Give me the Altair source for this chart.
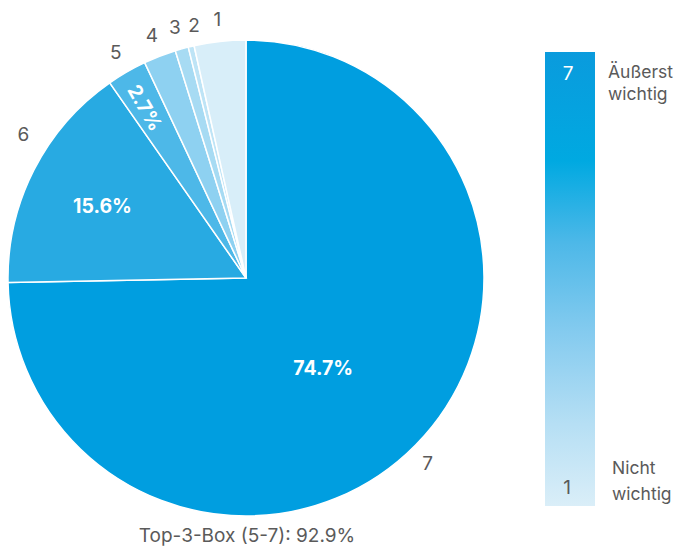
import altair as alt
import pandas as pd

categories = ["7", "6", "5", "4", "3", "2", "1"]
shares = [74.7, 15.6, 2.7, 2.2, 0.9, 0.4, 3.5]
inside_labels = ["74.7%", "15.6%", "2.7%", "", "", "", ""]
slice_colors = ["#009EE0", "#28AAE2", "#4DB8E8", "#8ED1F1", "#A7DBF3", "#BEE4F6", "#D8EEF9"]
legend_top_label = "7"
legend_bottom_label = "1"
legend_top_text = ["Äußerst", "wichtig"]
legend_bottom_text = ["Nicht", "wichtig"]
footer_text = "Top-3-Box (5-7): 92.9%"

FONT = "Inter"
GREY = "#5a5a5a"
CX, CY, R = 238, 270, 238

df = pd.DataFrame({
    "cat": categories,
    "value": shares,
    "inside": inside_labels,
    "order": list(range(len(categories))),
})

base = alt.Chart(df).encode(
    theta=alt.Theta("value:Q", stack=True),
    order=alt.Order("order:Q"),
    x=alt.value(CX),
    y=alt.value(CY),
)

color = alt.Color("cat:N", scale=alt.Scale(domain=categories, range=slice_colors), legend=None)

pie = base.mark_arc(stroke="white", strokeWidth=1.5).encode(
    color=color, radius=alt.value(R)
)


def outer_label(cats, dx=0, dy=0):
    cond = alt.FieldOneOfPredicate(field="cat", oneOf=cats)
    return base.mark_text(font=FONT, fontSize=19, color=GREY, dx=dx, dy=dy).encode(
        text=alt.condition(cond, "cat:N", alt.value("")),
        radius=alt.value(260),
    )


outer_main = outer_label(["1", "4", "5"])
outer_3 = outer_label(["3"], dx=-1)
outer_2 = outer_label(["2"], dx=8, dy=1)
outer_6 = outer_label(["6"], dx=9, dy=-25)
outer_7 = outer_label(["7"], dx=-4, dy=4)


def inside_label(cat, r, angle=0, dx=0, dy=0):
    return base.mark_text(
        font=FONT, fontSize=19.5, fontWeight="bold", color="white", angle=angle, dx=dx, dy=dy
    ).encode(
        text=alt.condition(alt.datum.cat == cat, "inside:N", alt.value("")),
        radius=alt.value(r),
    )


in7 = inside_label("7", 118, dx=-7, dy=8)
in6 = inside_label("6", 160, dx=-1, dy=2)
in5 = inside_label("5", 196, angle=60, dx=-2, dy=3)

one = alt.Chart(pd.DataFrame({"k": [0]}))

grad = alt.LinearGradient(
    gradient="linear",
    stops=[
        alt.GradientStop(color="#0A9BDD", offset=0),
        alt.GradientStop(color="#00A9E1", offset=0.24),
        alt.GradientStop(color="#4DB8E8", offset=0.42),
        alt.GradientStop(color="#85CBEF", offset=0.62),
        alt.GradientStop(color="#B6DFF4", offset=0.82),
        alt.GradientStop(color="#DAEEF8", offset=1),
    ],
    x1=0, y1=0, x2=0, y2=1,
)

legend_bar = one.mark_rect(fill=grad).encode(
    x=alt.value(537), x2=alt.value(587), y=alt.value(44), y2=alt.value(498)
)
leg7 = one.mark_text(font=FONT, fontSize=19, color="white").encode(
    x=alt.value(560), y=alt.value(66), text=alt.value(legend_top_label)
)
leg1 = one.mark_text(font=FONT, fontSize=19, color=GREY).encode(
    x=alt.value(559), y=alt.value(480), text=alt.value(legend_bottom_label)
)
leg_top = one.mark_text(font=FONT, fontSize=17.5, color=GREY, align="left", lineHeight=22).encode(
    x=alt.value(600), y=alt.value(65), text=alt.value(legend_top_text)
)
leg_bot = one.mark_text(font=FONT, fontSize=17.5, color=GREY, align="left", lineHeight=26).encode(
    x=alt.value(604), y=alt.value(461), text=alt.value(legend_bottom_text)
)
footer = one.mark_text(font=FONT, fontSize=19, color=GREY, baseline="alphabetic").encode(
    x=alt.value(239), y=alt.value(534), text=alt.value(footer_text)
)

chart = alt.layer(
    pie, outer_main, outer_3, outer_2, outer_6, outer_7, in7, in6, in5,
    legend_bar, leg7, leg1, leg_top, leg_bot, footer
).properties(
    width=667, height=538, padding=0,
    autosize=alt.AutoSizeParams(type="none"),
).configure_view(stroke=None)

chart.save("out.html", embed_options={"renderer": "svg", "actions": False})
